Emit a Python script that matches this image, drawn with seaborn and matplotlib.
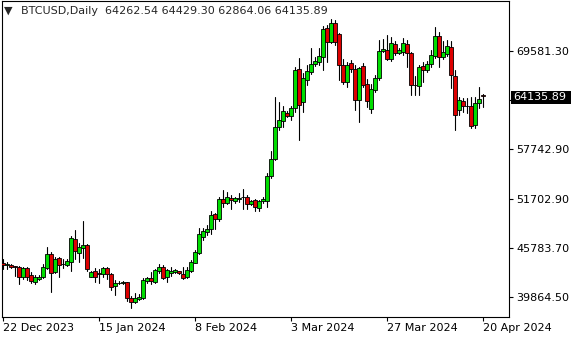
import numpy as np
import pandas as pd
import matplotlib
matplotlib.use("Agg")
import matplotlib.pyplot as plt
import seaborn as sns
from matplotlib.patches import Rectangle

# ---------------- data ----------------
dates = pd.date_range("2023-12-22", "2024-04-20", freq="D")

opens = [44008, 43730, 43730, 43573, 43452, 42244, 43331, 42522, 41640, 42003,
         42317, 43331, 45059, 42848, 44539, 43851, 43730, 44129, 46835, 45216,
         45748, 46146, 42317, 43005, 42727, 42643, 43331, 42643, 41193, 41556,
         41592, 41640, 39780, 39224, 39623, 39780, 41833, 42123, 41713, 43042,
         43452, 42317, 42727, 42921, 42969, 42643, 42317, 43042, 44008, 45216,
         47149, 47753, 48043, 49855, 49287, 51703, 51256, 51787, 51498, 51739,
         51908, 51981, 51099, 51582, 50579, 51425, 51498, 54481, 56535, 60437,
         61161, 62128, 61693, 62696, 67407, 63457, 66078, 67081, 67975, 68289,
         68893, 72360, 70705, 72927, 71635, 67890, 65836, 68168, 67371, 63626,
         67769, 65595, 62599, 64810, 66320, 69618, 69750, 68579, 70475, 69304,
         69497, 70475, 69376, 65474, 65353, 67769, 67286, 68047, 68941, 71393,
         68820, 69243, 70101, 66561, 62454, 63578, 62877, 62937, 60642, 63263,
         64262.54]
highs = [44419, 44092, 43887, 43645, 43645, 43525, 43525, 42921, 42486, 42558,
         43851, 45941, 45300, 44733, 44733, 44419, 44419, 47233, 47958, 46424,
         49045, 46250, 43042, 43331, 43211, 43525, 43452, 42800, 41918, 41833,
         41797, 41713, 40022, 40311, 40191, 42123, 42317, 42848, 43247, 43851,
         43730, 43211, 43452, 43283, 43005, 43452, 43452, 44334, 45542, 48163,
         48163, 48562, 50253, 49975, 51908, 52790, 52512, 52186, 51908, 52391,
         52911, 52186, 51582, 51667, 51582, 51908, 54880, 57538, 64061, 63457,
         62937, 62369, 62901, 67685, 68736, 66924, 67890, 69908, 68893, 69944,
         72601, 72782, 73387, 73326, 71720, 68615, 68289, 68494, 67890, 67685,
         68132, 66199, 65595, 66622, 70947, 71055, 71514, 71308, 70825, 69908,
         71092, 70947, 69497, 66561, 67890, 68289, 68373, 69702, 72480, 71912,
         70825, 70910, 70825, 67286, 64061, 63904, 63868, 64061, 64061, 65196,
         64429.30]
lows = [43283, 43247, 43331, 42437, 41399, 42039, 41918, 41519, 41399, 41882,
        42123, 43211, 40505, 42727, 42244, 43331, 43609, 43042, 44419, 44129,
        44539, 43042, 42244, 41713, 41592, 42244, 42003, 40710, 40106, 41399,
        41435, 39418, 38500, 39103, 39502, 39623, 41519, 41435, 41519, 42727,
        42003, 41713, 42437, 42727, 42607, 42075, 42196, 42848, 43935, 45059,
        46750, 47354, 47475, 48079, 49082, 50773, 51063, 50459, 51184, 51377,
        50555, 50495, 50978, 50290, 50290, 51256, 50773, 54203, 56414, 60038,
        60400, 61608, 61246, 62212, 58830, 62249, 65474, 66803, 67769, 67926,
        67286, 68192, 70511, 70306, 66078, 65595, 65269, 67045, 62454, 61005,
        65269, 62816, 62092, 64628, 66078, 69400, 68494, 68313, 69038, 69183,
        69098, 67685, 64266, 64266, 64206, 65873, 67081, 67685, 68699, 67685,
        68579, 68977, 65112, 60038, 61850, 62249, 62056, 60244, 60244, 62660,
        62864.06]
closes = [43694, 43911, 43452, 43488, 42244, 43331, 42317, 41797, 42244, 42317,
          43525, 45059, 42800, 44419, 43730, 43815, 44213, 46955, 45458, 45868,
          46146, 43211, 42848, 42317, 42679, 43404, 42607, 41036, 41592, 41616,
          41640, 39707, 39224, 39780, 39828, 41918, 42123, 41797, 43126, 43452,
          42196, 43126, 43005, 43126, 42727, 42196, 43126, 44056, 45264, 47475,
          47837, 48079, 49770, 49287, 51667, 51256, 51908, 51582, 51824, 51787,
          51981, 51099, 51498, 50773, 51461, 51739, 54481, 56535, 60364, 61246,
          62369, 61765, 62696, 67286, 63058, 66284, 67165, 68011, 68373, 68941,
          72203, 70608, 73000, 70705, 67830, 65873, 67890, 67371, 63626, 67492,
          65474, 63481, 64955, 66320, 69545, 69786, 68579, 70511, 69304, 69702,
          70511, 69376, 65474, 65510, 67648, 67346, 68071, 69098, 71393, 68893,
          69460, 70125, 66742, 61850, 63662, 62877, 62937, 60521, 63300, 63783,
          64135.89]

ytick_values = [39864.50, 45783.70, 51702.90, 57742.90, 63662.10, 69581.30]
xtick_dates = ["2023-12-22", "2024-01-15", "2024-02-08", "2024-03-03", "2024-03-27", "2024-04-20"]
xtick_labels = ["22 Dec 2023", "15 Jan 2024", "8 Feb 2024", "3 Mar 2024", "27 Mar 2024", "20 Apr 2024"]
symbol_label = "BTCUSD,Daily"
last_price = 64135.89

# ---------------- build frames ----------------
df = pd.DataFrame({"date": dates, "open": opens, "high": highs,
                   "low": lows, "close": closes})
df["x"] = np.arange(len(df))
df["bull"] = df["close"] >= df["open"]
df["body_lo"] = df[["open", "close"]].min(axis=1)
df["body_h"] = (df["close"] - df["open"]).abs()

wicks = pd.concat([
    df[["x", "low"]].rename(columns={"low": "price"}).assign(candle=df["x"], k=0),
    df[["x", "high"]].rename(columns={"high": "price"}).assign(candle=df["x"], k=1),
]).sort_values(["candle", "k"])

# ---------------- styling ----------------
sns.set_theme(style="white")
plt.rcParams["font.family"] = ["DejaVu Sans"]
plt.rcParams["axes.linewidth"] = 0.8

fig = plt.figure(figsize=(5.8, 3.4), dpi=100)
ax = fig.add_axes([2 / 580, 1 - 317 / 340, 507 / 580, 316 / 340])

# wicks via seaborn
sns.lineplot(data=wicks, x="x", y="price", units="candle", estimator=None,
             sort=False, color="black", linewidth=0.8, ax=ax, legend=False)

# bodies
bull_col, bear_col = "#00dd00", "#dd0000"
colors = np.where(df["bull"], bull_col, bear_col)
ax.bar(df["x"], df["body_h"], bottom=df["body_lo"], width=0.82,
       color=colors, edgecolor="black", linewidth=0.6, zorder=3)

ax.set_xlim(-0.25, 126.5)
ax.set_ylim(37448.5, 75621)

for s in ax.spines.values():
    s.set_visible(True)
    s.set_color("black")
    s.set_linewidth(0.8)

# y axis on right
ax.yaxis.tick_right()
ax.set_yticks(ytick_values)
ax.set_yticklabels([f"{v:.2f}" for v in ytick_values])
ax.tick_params(axis="y", which="both", right=True, left=False, labelright=True,
               labelleft=False, direction="out", length=3, width=0.8, pad=2,
               labelsize=8, colors="black")

# x axis
xpos = [df.index[df["date"] == pd.Timestamp(d)][0] for d in xtick_dates]
ax.set_xticks(xpos)
ax.set_xticklabels(xtick_labels, ha="left")
ax.tick_params(axis="x", which="both", bottom=True, direction="out", length=3,
               width=0.8, pad=1.5, labelsize=8, colors="black")
ax.set_xlabel("")
ax.set_ylabel("")
ax.grid(False)

# header
fig.text(4 / 580, 1 - 10.5 / 340, "▼", fontsize=8, va="center", ha="left")
hdr = f"{symbol_label}  {opens[-1]:.2f} {highs[-1]:.2f} {lows[-1]:.2f} {closes[-1]:.2f}"
fig.text(21 / 580, 1 - 11 / 340, hdr, fontsize=8, va="center", ha="left")

# current price tag (covers the nearest axis label, as in the reference)
fig.add_artist(Rectangle((510.5 / 580, 1 - 103.5 / 340), 60 / 580, 13 / 340,
                         transform=fig.transFigure, facecolor="black",
                         edgecolor="none", zorder=10))
fig.text(513.5 / 580, 1 - 97 / 340, f"{last_price:.2f}", color="white",
         fontsize=8, va="center", ha="left", zorder=11)

fig.savefig("out.png", dpi=100)
